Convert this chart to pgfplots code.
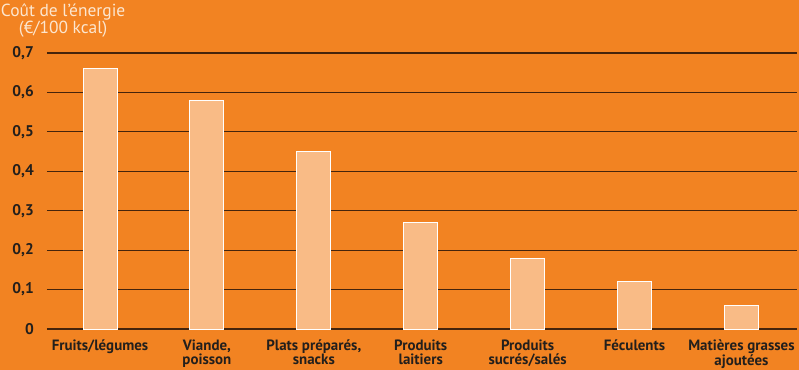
\documentclass[border=0pt]{standalone}
\usepackage{fontspec}
\setmainfont{PT Sans}
\usepackage{pgfplots}
\pgfplotsset{compat=1.18}
\definecolor{bg}{HTML}{F28322}
\definecolor{barc}{HTML}{F9BB86}
\definecolor{gridc}{HTML}{45240C}
\definecolor{txt}{HTML}{231F1C}
\definecolor{ttl}{HTML}{FCE6CF}
\begin{document}
\begin{tikzpicture}
\fill[bg] (-47bp,-41bp) rectangle (752bp,329bp);
\useasboundingbox (-47bp,-41bp) rectangle (752bp,329bp);
\begin{axis}[
  scale only axis, width=750bp, height=276bp,
  at={(0,0)}, anchor=south west,
  xmin=-0.496, xmax=6.52, ymin=0, ymax=0.7,
  axis line style={draw=none},
  major tick length=0pt,
  ymajorgrids, grid style={gridc, line width=1.1pt},
  ytick={0,0.1,0.2,0.3,0.4,0.5,0.6,0.7},
  yticklabel style={font=\bfseries\fontsize{15.5}{16}\selectfont, text=txt, anchor=east, inner sep=0pt, xshift=-13bp,
    /pgf/number format/.cd, use comma, fixed, precision=1, assume math mode=true},
  xtick={0,1,2,3,4,5,6},
  xticklabels={Fruits/légumes, {Viande,\\poisson}, {Plats préparés,\\snacks}, {Produits\\laitiers}, {Produits\\sucrés/salés}, Féculents, {Matières grasses\\ajoutées}},
  xticklabel style={font=\bfseries\fontsize{15}{13.5}\selectfont, text=txt, align=center, anchor=north, inner sep=0pt, yshift=-11bp},
  clip=false,
]
\addplot[ybar, bar width=34bp, fill=barc, draw=white, line width=1pt] coordinates {
  (0,0.66) (1,0.58) (2,0.45) (3,0.27) (4,0.18) (5,0.12) (6,0.06)
};
\node[align=center, text=ttl, font=\fontsize{17.5}{16.5}\selectfont] at (axis description cs:0.0215,1.118) {Coût de l'énergie\\(€/100 kcal)};
\end{axis}
\end{tikzpicture}
\end{document}
